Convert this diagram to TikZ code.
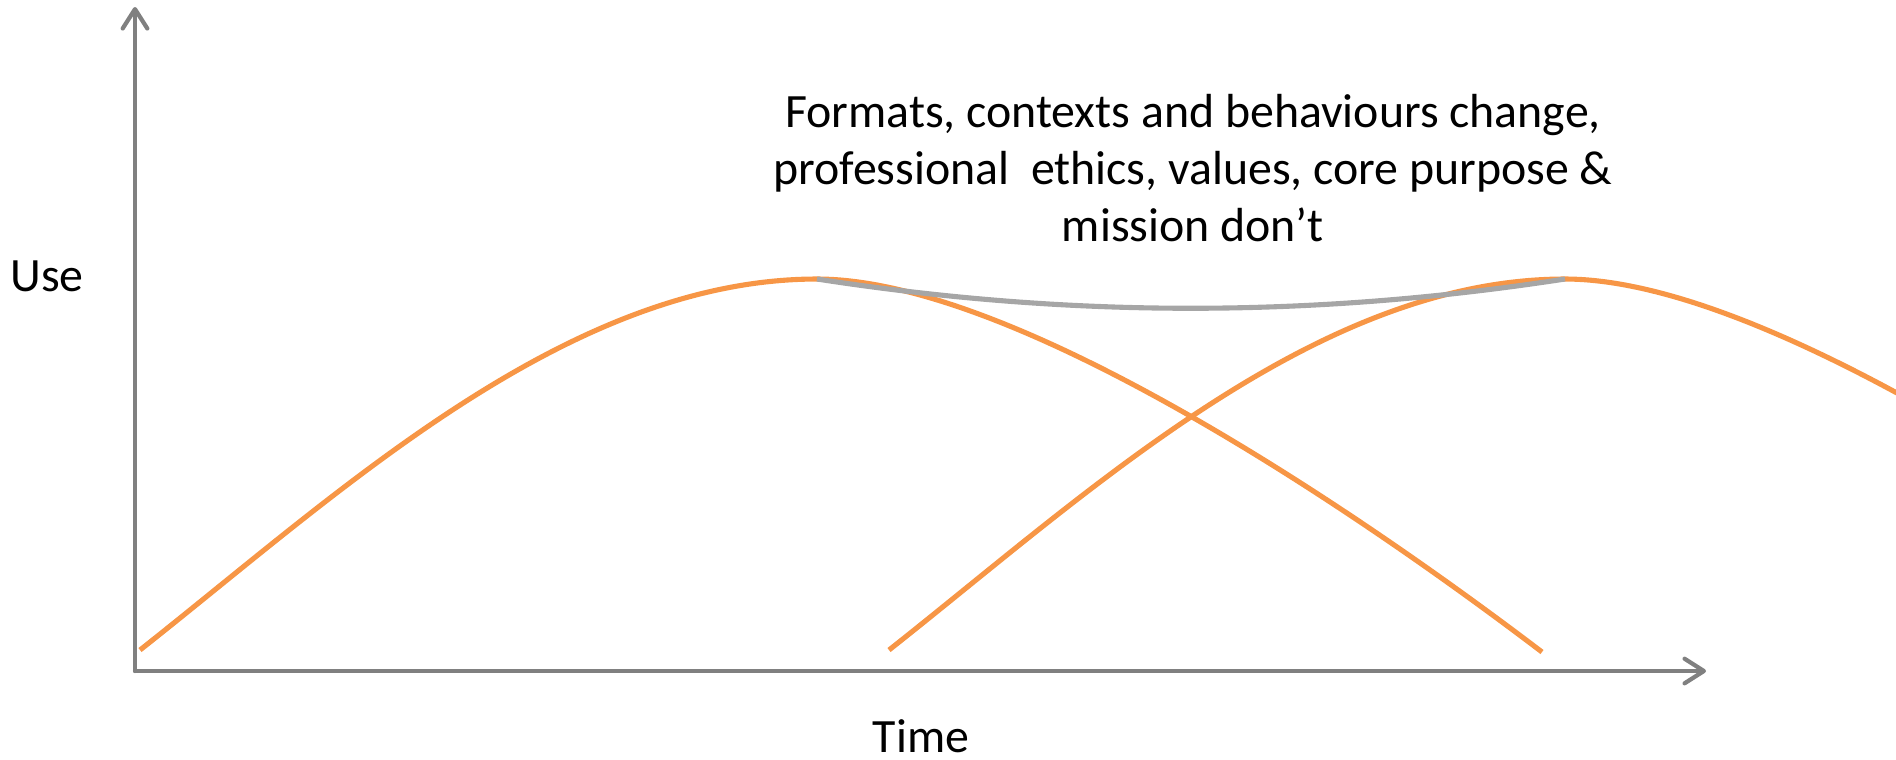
\documentclass[tikz,border=0pt]{standalone}
\usepackage{fontspec}
\setmainfont{Carlito}
\usetikzlibrary{arrows.meta}
\definecolor{axisgray}{HTML}{808080}
\definecolor{curveorange}{HTML}{F79646}
\definecolor{linkgray}{HTML}{A6A6A6}
\begin{document}
\begin{tikzpicture}[x=0.01cm,y=-0.01cm,
  axisline/.style={draw=axisgray, line width=1.2pt, line cap=round,
    -{Straight Barb[length=5.5pt,width=7pt,line join=round,line cap=round]}},
  lifecurve/.style={draw=curveorange, line width=1.45pt},
  linkcurve/.style={draw=linkgray, line width=1.45pt},
  label/.style={font=\fontsize{13.6pt}{16.2pt}\selectfont, align=center, inner sep=0pt}]
\useasboundingbox (0,0) rectangle (1896,759);
% axes
\coordinate (origin) at (135,671);
\coordinate (ytip) at (135,7);
\coordinate (xtip) at (1706,671);
\draw[axisline] (origin) -- (ytip);
\draw[axisline] (origin) -- (xtip);
% curves
\coordinate (s1) at (140,650);
\coordinate (p1) at (817,279);
\coordinate (e1) at (1542,652);
\coordinate (s2) at (889,650);
\coordinate (p2) at (1565,279);
\coordinate (e2) at (2290,652);
\begin{scope}
\clip (0,0) rectangle (1896,759);
\draw[lifecurve] (s1) .. controls (340,492) and (567,279) .. (p1)
  .. controls (1017,279) and (1362,515) .. (e1);
\draw[lifecurve] (s2) .. controls (1089,492) and (1316,279) .. (p2)
  .. controls (1765,279) and (2110,515) .. (e2);
\end{scope}
\draw[linkcurve] (p1) .. controls (1070,318) and (1311,318) .. (p2);
% labels
\node[label] (msg) at (1193,168) {Formats, contexts and behaviours change,\\professional\ \ ethics, values, core purpose \&\\mission don’t};
\node[label] (use) at (47,276) {Use};
\node[label] (time) at (921,736) {Time};
\end{tikzpicture}
\end{document}
